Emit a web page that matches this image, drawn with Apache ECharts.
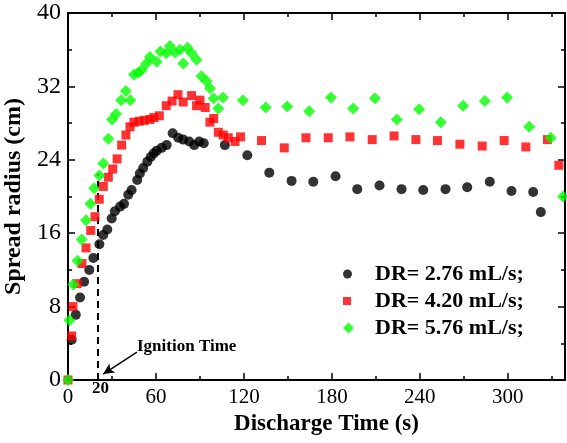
<!DOCTYPE html>
<html>
<head>
<meta charset="utf-8">
<script src="https://cdn.jsdelivr.net/npm/echarts@6/dist/echarts.min.js"></script>
<style>
html,body{margin:0;padding:0;background:#fff;}
#chart{width:567px;height:443px;}
</style>
</head>
<body>
<div id="chart"></div>
<script>
// ---- data (x: discharge time in s, y: spread radius in cm) ----
const seriesNames = ['DR= 2.76 mL/s;', 'DR= 4.20 mL/s;', 'DR= 5.76 mL/s;'];
const xTicks = [0, 60, 120, 180, 240, 300];
const yTicks = [0, 8, 16, 24, 32, 40];

const dr276 = [
  [2.5,4.4],[5.3,7.1],[8.2,9.0],[11,10.7],[14.5,12.0],[17.3,13.3],[21.4,14.8],[24,15.8],
  [26.8,16.4],[29.8,17.6],[32,18.4],[35.5,18.9],[38.2,19.2],[41.1,20.2],[43.4,20.7],
  [47.2,21.8],[49,22.5],[51.3,23.1],[54.1,23.8],[56.4,24.3],[58.5,24.7],[60.5,25.0],
  [63.9,25.3],[67.3,25.6],[71.4,26.9],[75.2,26.4],[78.6,26.2],[82.7,26.0],[86.1,25.6],
  [89.5,26.0],[92.6,25.8],[107,25.6],[122.3,24.5],[137.3,22.6],[152.5,21.7],[167.3,21.6],
  [182.5,22.2],[197.3,20.8],[212.5,21.2],[227.5,20.8],[242.3,20.7],[257.5,20.8],
  [272.3,21.0],[287.7,21.6],[302.5,20.6],[317.3,20.5],[322.5,18.3]
];
const dr420 = [
  [0,0],[2.5,4.8],[3.4,8.0],[6.3,10.5],[9.5,12.7],[12.3,14.4],[15.5,16.3],[18.4,17.8],
  [21.3,19.7],[24.1,21.1],[27.5,22.1],[30.5,23.0],[33.5,24.1],[36.6,25.6],[39.5,26.7],
  [42.3,27.6],[45,28.1],[48.6,28.2],[52,28.3],[55.8,28.4],[58.6,28.6],[62.3,28.8],
  [67,29.9],[71,30.4],[75,31.1],[78.6,30.3],[84.3,31.0],[87.7,29.9],[90,30.5],[93.6,29.7],
  [96.8,28.1],[99.4,28.5],[102.5,27.0],[105.9,26.7],[109.3,26.4],[113.9,26.0],[117.7,26.5],
  [132,26.1],[147.5,25.3],[162.3,26.4],[177.5,26.4],[192.3,26.5],[207.5,26.2],[222.4,26.6],
  [237.3,26.2],[252,26.1],[267.3,25.7],[282.5,25.5],[297.5,26.1],[312.3,25.4],[327,26.2],
  [334.8,23.4]
];
const dr576 = [
  [0,0],[1,6.5],[3.6,10.4],[6.5,13.0],[9.3,15.3],[12.3,17.4],[15.2,19.2],[17.8,20.9],
  [21.4,22.3],[24.1,23.6],[27.5,26.3],[30,28.4],[32.8,29.0],[36.3,30.5],[39.4,31.5],
  [42.5,30.5],[45,33.3],[47.9,33.5],[50.2,33.8],[53.5,34.5],[55.9,35.2],[60.5,34.7],
  [63,35.8],[67,35.6],[69.5,36.4],[73,35.7],[76.4,36.0],[78.6,34.5],[81.5,36.2],[84.3,35.6],
  [87.7,34.9],[91,33.1],[94.4,32.6],[96.8,31.8],[99.3,30.7],[102.5,29.6],[105.7,30.8],
  [119.3,30.5],[134.8,29.7],[149.5,29.8],[164.5,29.3],[179.3,30.8],[194.5,29.6],[209.3,30.7],
  [224.3,28.4],[239.5,29.5],[254.3,28.1],[269.5,29.9],[284.3,30.4],[299.5,30.8],[314.5,27.6],
  [329.3,26.4],[337.7,20.0]
];
// ignition marker: time and dashed line top, arrow from/to (data coords)
const ignitionTime = 20;
const ignitionLineTop = 22.5;
const arrowFrom = [47, 3.05];
const arrowTo = [24, 0.65];

const font = "'Liberation Serif','Times New Roman',serif";
const xMin = 0, xMax = 339, yMin = 0, yMax = 40;

const chart = echarts.init(document.getElementById('chart'), null, {renderer: 'canvas'});

const axisLineStyle = {color: '#000', width: 2};
function xAx(pos, show) {
  return {
    type: 'value', position: pos, min: xMin, max: xMax, interval: 60,
    axisLine: {show: true, onZero: false, lineStyle: axisLineStyle},
    axisTick: {show: true, inside: true, length: 7, lineStyle: {color: '#000', width: 1.5}},
    minorTick: {show: true, splitNumber: 2, length: 4, lineStyle: {color: '#000', width: 1.5}},
    splitLine: {show: false},
    axisLabel: {show: show, color: '#000', fontFamily: font, fontSize: 21, margin: 7,
      formatter: v => xTicks.indexOf(v) >= 0 ? String(v) : ''},
    name: show ? 'Discharge Time (s)' : '',
    nameLocation: 'middle', nameGap: 32,
    nameTextStyle: {color: '#000', fontFamily: font, fontSize: 23, fontWeight: 'bold', padding: [0, 0, 0, 20]}
  };
}
function yAx(pos, show) {
  return {
    type: 'value', position: pos, min: yMin, max: yMax, interval: 8,
    axisLine: {show: true, onZero: false, lineStyle: axisLineStyle},
    axisTick: {show: true, inside: true, length: 7, lineStyle: {color: '#000', width: 1.5}},
    minorTick: {show: true, splitNumber: 2, length: 4, lineStyle: {color: '#000', width: 1.5}},
    splitLine: {show: false},
    axisLabel: {show: show, color: '#000', fontFamily: font, fontSize: 24, margin: 7,
      formatter: v => yTicks.indexOf(v) >= 0 ? String(v) : ''},
    name: show ? 'Spread radius (cm)' : '',
    nameLocation: 'middle', nameGap: 37,
    nameTextStyle: {color: '#000', fontFamily: font, fontSize: 24, fontWeight: 'bold'}
  };
}

const option = {
  animation: false,
  backgroundColor: '#fff',
  grid: {left: 68, right: 2, top: 13, bottom: 63, containLabel: false, outerBoundsMode: 'none'},
  xAxis: [xAx('bottom', true), xAx('top', false)],
  yAxis: [yAx('left', true), yAx('right', false)],
  legend: [0, 1, 2].map(i => ({
    orient: 'vertical', left: 338, top: 258 + i * 27,
    itemWidth: [9, 8, 11][i], itemHeight: [9, 8, 11][i],
    textStyle: {color: '#000', fontFamily: font, fontSize: 22, fontWeight: 'bold',
      padding: [0, 0, 0, [18, 19, 16][i]]},
    data: [{name: seriesNames[i], icon: ['circle', 'rect', 'diamond'][i]}]
  })),
  graphic: [
    {type: 'text', left: 137, top: 338, style: {text: 'Ignition Time', fill: '#000',
      font: "bold 17px 'Liberation Serif','Times New Roman',serif"}},
    {type: 'text', left: 92, top: 380, style: {text: '20', fill: '#000',
      font: "bold 17px 'Liberation Serif','Times New Roman',serif"}}
  ],
  series: [
    {
      name: seriesNames[0], type: 'scatter', data: dr276, symbol: 'circle', symbolSize: 10,
      itemStyle: {color: '#000'}, z: 3,
      markLine: {
        silent: true, animation: false, symbol: ['none', 'none'], z: 1,
        label: {show: false},
        lineStyle: {color: '#000', width: 2, type: [7, 5]},
        data: [[{coord: [ignitionTime, 0]}, {coord: [ignitionTime, ignitionLineTop]}]]
      }
    },
    {
      name: seriesNames[1], type: 'scatter', data: dr420, symbol: 'rect', symbolSize: 9,
      itemStyle: {color: '#ff0000'}, z: 4,
      markLine: {
        silent: true, animation: false, symbol: ['none', 'arrow'], symbolSize: [8, 11],
        label: {show: false},
        lineStyle: {color: '#000', width: 1.5, type: 'solid'},
        data: [[{coord: arrowFrom}, {coord: arrowTo}]]
      }
    },
    {
      name: seriesNames[2], type: 'scatter', data: dr576, symbol: 'diamond', symbolSize: 12,
      itemStyle: {color: '#00ff00'}, z: 5
    }
  ]
};
chart.setOption(option);
</script>
</body>
</html>
